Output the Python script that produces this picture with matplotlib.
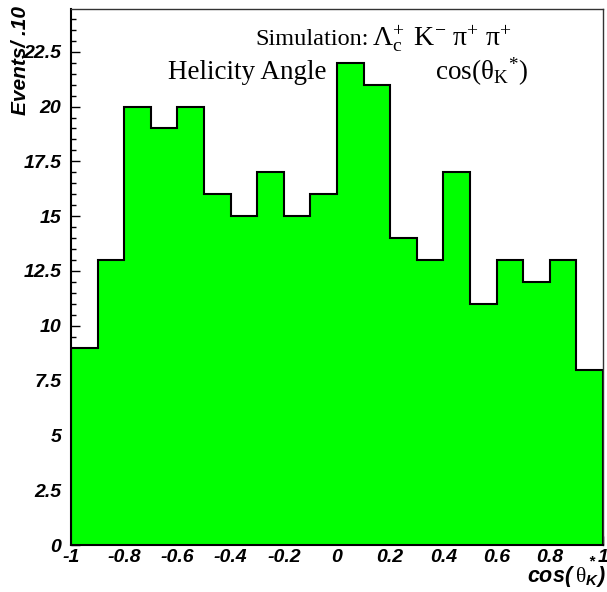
import numpy as np
import matplotlib
matplotlib.use("Agg")
import matplotlib.pyplot as plt
from matplotlib.ticker import MultipleLocator, FixedLocator

plt.rcParams["mathtext.fontset"] = "custom"
plt.rcParams["mathtext.rm"] = "Liberation Serif"
plt.rcParams["mathtext.it"] = "Liberation Serif:italic"
plt.rcParams["mathtext.sf"] = "Liberation Sans:bold:italic"

# Histogram contents: 20 bins of cos(theta_K*) between -1 and 1
bin_edges = np.linspace(-1.0, 1.0, 21)
counts = [9, 13, 20, 19, 20, 16, 15, 17, 15, 16,
          22, 21, 14, 13, 17, 11, 13, 12, 13, 8]

x_ticks = [-1, -0.8, -0.6, -0.4, -0.2, 0, 0.2, 0.4, 0.6, 0.8, 1]
x_tick_labels = ["-1", "-0.8", "-0.6", "-0.4", "-0.2", "0", "0.2", "0.4", "0.6", "0.8", "1"]
y_ticks = [0, 2.5, 5, 7.5, 10, 12.5, 15, 17.5, 20, 22.5]
y_tick_labels = ["0", "2.5", "5", "7.5", "10", "12.5", "15", "17.5", "20", "22.5"]

W, H = 607, 592
fig = plt.figure(figsize=(W / 100, H / 100), dpi=100)
fig.patch.set_facecolor("white")

left, right, top, bottom = 71, 603, 9, 545
ax = fig.add_axes([left / W, 1 - bottom / H, (right - left) / W, (bottom - top) / H])

ax.stairs(counts, bin_edges, fill=True, facecolor="#00ff00", edgecolor="none", zorder=2)
ax.stairs(counts, bin_edges, fill=False, edgecolor="black", linewidth=1.5, zorder=3)

ax.set_xlim(-1, 1)
ax.set_ylim(0, 24.45)

tick_font = dict(family="Liberation Sans", weight="bold", style="italic", size=14)

ax.xaxis.set_major_locator(FixedLocator(x_ticks))
ax.set_xticklabels(x_tick_labels, fontdict=tick_font)
ax.xaxis.set_minor_locator(MultipleLocator(0.05))
ax.yaxis.set_major_locator(FixedLocator(y_ticks))
ax.set_yticklabels(y_tick_labels, fontdict=tick_font)
ax.yaxis.set_minor_locator(MultipleLocator(0.5))

ax.tick_params(axis="both", which="major", direction="in", length=6.5, width=1, color="black")
ax.tick_params(axis="both", which="minor", direction="in", length=3.6, width=1, color="black")
ax.tick_params(axis="x", which="major", pad=3)
ax.tick_params(axis="y", which="major", pad=7)
ax.tick_params(top=False, right=False, which="both")

for side in ("left", "bottom"):
    ax.spines[side].set_linewidth(1.5)
    ax.spines[side].set_color("black")
    ax.spines[side].set_zorder(4)
for side in ("top", "right"):
    ax.spines[side].set_linewidth(1.0)
    ax.spines[side].set_color("#333333")
    ax.spines[side].set_zorder(4)

# Axis titles
fig.text(21 / W, 1 - 6 / H, "Events/ .10", rotation=90, ha="center", va="top",
         family="Liberation Sans", weight="bold", style="italic", size=15)
fig.text(606 / W, 1 - 582 / H, r"$\mathsf{cos(}\;\mathrm{θ}_{\mathsf{K}}\mathsf{)}$",
         ha="right", va="baseline", size=15.5)
fig.text(591 / W, 1 - 565 / H, "*", ha="center", va="baseline",
         family="Liberation Sans", weight="bold", style="italic", size=11)

# Annotations
fig.text(255 / W, 1 - 45 / H, "Simulation:", ha="left", va="baseline",
         family="Liberation Serif", size=17.5)
fig.text(372 / W, 1 - 45 / H,
         r"$\mathrm{Λ}_{\mathrm{c}}^{+}\ \,\mathrm{K}^{-}\ \mathrm{π}^{+}\ \mathrm{π}^{+}$",
         ha="left", va="baseline", size=20)
fig.text(168 / W, 1 - 79 / H, "Helicity Angle", ha="left", va="baseline",
         family="Liberation Serif", size=19.5)
fig.text(435 / W, 1 - 80 / H, r"$\mathrm{cos(θ}_{\mathrm{K}}{}^{*}\mathrm{)}$",
         ha="left", va="baseline", size=19.5)

fig.savefig("out.png", dpi=100, facecolor="white")
